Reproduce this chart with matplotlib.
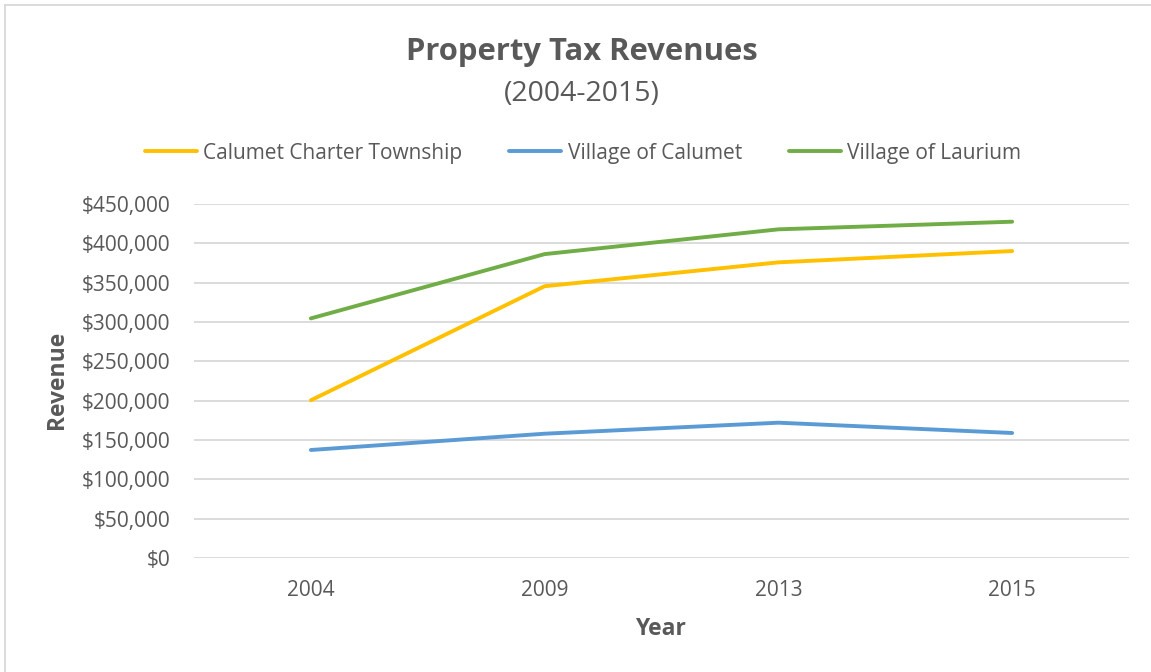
import matplotlib.pyplot as plt
from matplotlib.lines import Line2D
import matplotlib.ticker as tick

plt.rcParams['font.family'] = ['Open Sans', 'DejaVu Sans']

# Property tax revenue by year
years = ['2004', '2009', '2013', '2015']
township = [200500, 345500, 375800, 390200]
calumet = [137300, 158000, 172000, 158900]
laurium = [304600, 386300, 417800, 427500]

text_color = '#595959'
grid_color = '#D9D9D9'

fig = plt.figure(figsize=(11.51, 6.72), dpi=100)
ax = fig.add_axes([194 / 1151, 1 - 558 / 672, (1129 - 194) / 1151, (558 - 204) / 672])

x = range(len(years))
ax.plot(x, township, color='#FFC000', lw=2.8, solid_capstyle='round', label='Calumet Charter Township')
ax.plot(x, calumet, color='#5B9BD5', lw=2.8, solid_capstyle='round', label='Village of Calumet')
ax.plot(x, laurium, color='#70AD47', lw=2.8, solid_capstyle='round', label='Village of Laurium')

ax.set_xlim(-0.5, len(years) - 0.5)
ax.set_ylim(0, 450000)
ax.set_xticks(list(x))
ax.set_xticklabels(years)
ax.yaxis.set_major_locator(tick.MultipleLocator(50000))
ax.yaxis.set_major_formatter(tick.FuncFormatter(lambda v, p: '${:,.0f}'.format(v)))
ax.tick_params(axis='both', length=0, labelsize=15, colors=text_color)
ax.tick_params(axis='y', pad=17)
ax.tick_params(axis='x', pad=16)
ax.grid(axis='y', color=grid_color, lw=1.3)
ax.set_axisbelow(True)
for s in ax.spines.values():
    s.set_visible(False)

ax.set_ylabel('Revenue', fontsize=16.5, fontweight='bold', color=text_color, va='center', ha='center')
ax.set_xlabel('Year', fontsize=16.5, fontweight='bold', color=text_color, va='center', ha='center')
ax.yaxis.set_label_coords((57 - 194) / 935, (558 - 380) / 354)
ax.xaxis.set_label_coords((660 - 194) / 935, (558 - 629) / 354)

fig.text(582 / 1151, 1 - 52 / 672, 'Property Tax Revenues', ha='center', va='center',
         fontsize=22.3, fontweight='bold', color=text_color)
fig.text(582 / 1151, 1 - 94 / 672, '(2004-2015)', ha='center', va='center',
         fontsize=20.5, color=text_color)

fig.legend(loc='center', bbox_to_anchor=(0.5065, 1 - 153 / 672), ncol=3, frameon=False,
           fontsize=15, labelcolor=text_color, handlelength=2.5, handletextpad=0.3,
           columnspacing=2.25)

# chart border (top and left edges)
fig.add_artist(Line2D([5 / 1151, 5 / 1151], [0, 1 - 5 / 672], color=grid_color, lw=1.3))
fig.add_artist(Line2D([5 / 1151, 1], [1 - 5 / 672, 1 - 5 / 672], color=grid_color, lw=1.3))

fig.savefig('out.png', dpi=100)
